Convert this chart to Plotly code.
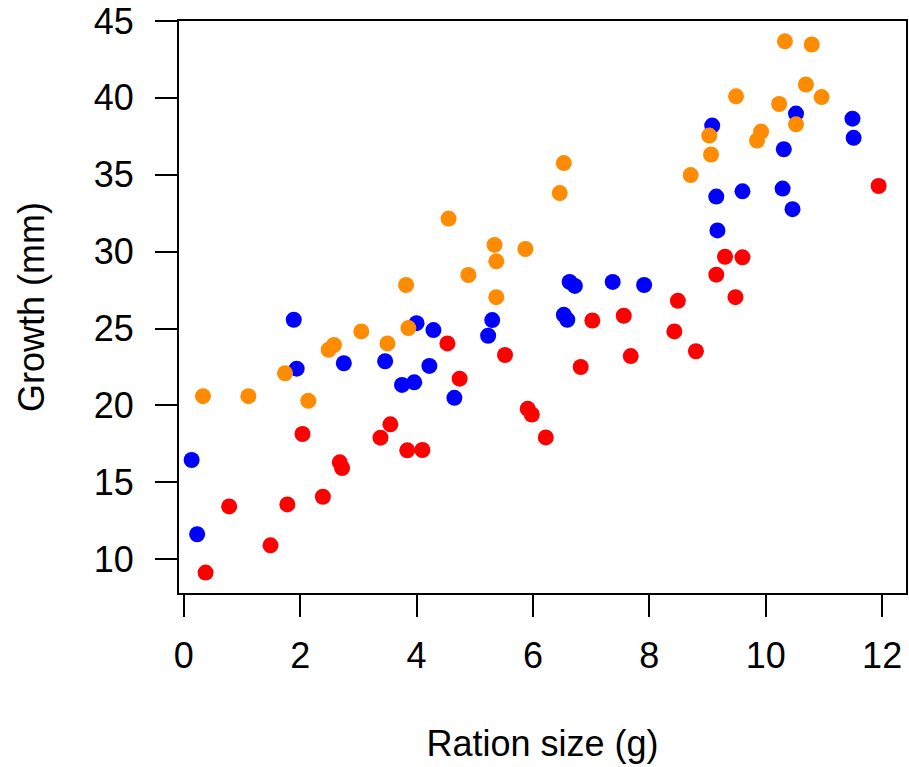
import plotly.graph_objects as go

# Blue group
blue_x = [0.135, 0.23, 1.89, 1.94, 2.75, 3.46, 3.75, 3.96, 4.00, 4.29, 4.22, 4.65, 5.30, 5.23,
          6.53, 6.59, 6.63, 6.72, 7.37, 7.91, 9.08, 9.15, 9.17, 9.60, 10.29, 10.31, 10.46,
          10.52, 11.49, 11.51]
blue_y = [16.45, 11.62, 25.57, 22.39, 22.74, 22.87, 21.33, 21.50, 25.35, 24.90, 22.57, 20.49,
          25.55, 24.53, 25.89, 25.57, 28.03, 27.77, 28.03, 27.83, 38.20, 33.58, 31.38, 33.92,
          34.10, 36.66, 32.76, 38.98, 38.65, 37.40]

# Red group
red_x = [0.375, 0.78, 1.49, 1.78, 2.04, 2.39, 2.68, 2.72, 3.38, 3.55, 3.84, 4.10, 4.53, 4.74,
         5.52, 5.91, 5.98, 6.22, 6.82, 7.02, 7.56, 7.68, 8.43, 8.49, 8.80, 9.15, 9.30, 9.48,
         9.60, 11.94]
red_y = [9.13, 13.43, 10.90, 13.56, 18.14, 14.06, 16.30, 15.93, 17.90, 18.77, 17.08, 17.10,
         24.03, 21.74, 23.28, 19.78, 19.41, 17.92, 22.50, 25.52, 25.83, 23.21, 24.81, 26.80,
         23.52, 28.50, 29.67, 27.04, 29.63, 34.27]

# Orange group
orange_x = [0.33, 1.11, 1.74, 2.14, 2.49, 2.58, 3.05, 3.50, 3.82, 3.86, 4.55, 4.89, 5.34, 5.37,
            5.37, 5.87, 6.46, 6.53, 8.71, 9.03, 9.06, 9.49, 9.85, 9.92, 10.23, 10.33, 10.52,
            10.69, 10.79, 10.96]
orange_y = [20.60, 20.60, 22.09, 20.30, 23.62, 23.93, 24.81, 24.03, 27.83, 25.03, 32.15, 28.48,
            30.44, 29.37, 27.04, 30.17, 33.81, 35.76, 34.98, 37.55, 36.32, 40.10, 37.23, 37.81,
            39.60, 43.68, 38.28, 40.87, 43.47, 40.05]

x_ticks = [0, 2, 4, 6, 8, 10, 12]
y_ticks = [10, 15, 20, 25, 30, 35, 40, 45]

fig = go.Figure()
for xs, ys, col in [(blue_x, blue_y, "#0000FF"), (red_x, red_y, "#FF0000"),
                    (orange_x, orange_y, "#FF8C00")]:
    fig.add_trace(go.Scatter(x=xs, y=ys, mode="markers",
                             marker=dict(size=16, color=col, line=dict(width=0)),
                             showlegend=False, hoverinfo="skip"))

font = dict(family="Liberation Sans, Arial, sans-serif", size=36, color="black")

fig.update_layout(
    width=909, height=767,
    margin=dict(l=179, r=1, t=19, b=174, pad=0),
    paper_bgcolor="white", plot_bgcolor="white",
    font=font,
    xaxis=dict(range=[-0.082, 12.41], tickvals=x_ticks, ticks="outside", ticklen=22,
               tickwidth=1.5, tickcolor="black", showline=True, linecolor="black",
               linewidth=2, mirror=True, showgrid=False, zeroline=False,
               ticklabelstandoff=8, tickfont=font, ticklabeloverflow="allow",
               title=dict(text="Ration size (g)", font=font, standoff=56)),
    yaxis=dict(range=[7.80, 45.0], tickvals=y_ticks, ticks="outside", ticklen=22,
               tickwidth=1.5, tickcolor="black", showline=True, linecolor="black",
               linewidth=2, mirror=True, showgrid=False, zeroline=False,
               ticklabelstandoff=14, tickfont=font, ticklabeloverflow="allow",
               title=dict(text="Growth (mm)", font=font, standoff=38)),
)

fig.write_html("out.html")
